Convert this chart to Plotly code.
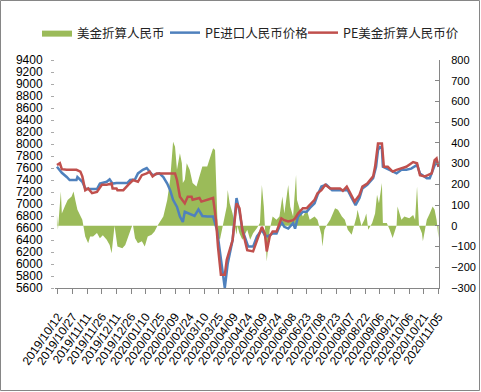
import plotly.graph_objects as go

# ---------------- data ----------------
blue_dates = ["2019-10-11","2019-10-16","2019-10-21","2019-10-24","2019-10-31","2019-11-01","2019-11-06","2019-11-09","2019-11-11","2019-11-21",
              "2019-11-24","2019-12-01","2019-12-04","2019-12-07","2019-12-11","2019-12-22","2019-12-25","2019-12-30","2020-01-02","2020-01-07",
              "2020-01-11","2020-01-14","2020-01-17","2020-01-24","2020-01-28","2020-02-01","2020-02-04","2020-02-07","2020-02-11","2020-02-14",
              "2020-02-17","2020-02-19","2020-02-24","2020-02-29","2020-03-04","2020-03-08","2020-03-13","2020-03-19","2020-03-23","2020-03-26",
              "2020-03-29","2020-03-31","2020-04-03","2020-04-08","2020-04-12","2020-04-15","2020-04-18","2020-04-24","2020-04-29","2020-05-03",
              "2020-05-08","2020-05-11","2020-05-14","2020-05-19","2020-05-23","2020-05-28","2020-05-31","2020-06-04","2020-06-09","2020-06-11",
              "2020-06-14","2020-06-19","2020-06-23","2020-06-26","2020-07-01","2020-07-04","2020-07-08","2020-07-13","2020-07-19","2020-07-27",
              "2020-08-04","2020-08-08","2020-08-12","2020-08-16","2020-08-19","2020-08-24","2020-08-30","2020-09-02","2020-09-04","2020-09-06",
              "2020-09-08","2020-09-09","2020-09-13","2020-09-18","2020-09-23","2020-09-28","2020-10-03","2020-10-08","2020-10-14","2020-10-17",
              "2020-10-20","2020-10-24","2020-10-27","2020-10-30","2020-11-03","2020-11-05"]
blue_values = [7620,7520,7450,7400,7400,7450,7370,7260,7250,7250,
               7340,7370,7410,7340,7350,7350,7400,7410,7510,7570,
               7600,7540,7480,7510,7450,7340,7230,7070,6950,6790,
               6700,6870,6840,6800,6910,6800,6790,6790,6570,6230,
               5900,5600,6010,6400,7100,6880,6570,6290,6290,6460,
               6570,6480,6460,6510,6510,6700,6620,6590,6680,6590,
               6790,6870,6870,6930,7010,7150,7290,7320,7230,7230,
               7230,7100,6980,7100,7260,7320,7430,7620,7900,7950,
               7930,7620,7590,7540,7510,7570,7570,7590,7650,7510,
               7480,7430,7430,7570,7730,7620]

red_dates = ["2019-10-11","2019-10-14","2019-10-16","2019-10-21","2019-10-31","2019-11-04","2019-11-06","2019-11-07","2019-11-09","2019-11-12",
             "2019-11-16","2019-11-21","2019-11-26","2019-12-01","2019-12-06","2019-12-07","2019-12-11","2019-12-12","2019-12-18","2019-12-23",
             "2019-12-28","2020-01-02","2020-01-06","2020-01-11","2020-01-14","2020-01-17","2020-01-21","2020-02-09","2020-02-11","2020-02-14",
             "2020-02-19","2020-02-22","2020-02-26","2020-02-27","2020-03-05","2020-03-07","2020-03-13","2020-03-19","2020-03-22","2020-03-24",
             "2020-03-27","2020-03-31","2020-04-02","2020-04-05","2020-04-08","2020-04-12","2020-04-15","2020-04-18","2020-04-23","2020-04-29",
             "2020-05-04","2020-05-08","2020-05-11","2020-05-13","2020-05-16","2020-05-19","2020-05-23","2020-05-28","2020-05-31","2020-06-04",
             "2020-06-09","2020-06-11","2020-06-14","2020-06-19","2020-06-23","2020-06-26","2020-07-01","2020-07-04","2020-07-08","2020-07-12",
             "2020-07-17","2020-07-22","2020-07-27","2020-07-30","2020-08-03","2020-08-06","2020-08-11","2020-08-16","2020-08-19","2020-08-24",
             "2020-08-30","2020-09-01","2020-09-04","2020-09-08","2020-09-10","2020-09-14","2020-09-19","2020-09-23","2020-09-28","2020-10-03",
             "2020-10-10","2020-10-14","2020-10-17","2020-10-22","2020-10-25","2020-10-29","2020-11-01","2020-11-03","2020-11-05"]
red_values = [7650,7680,7580,7570,7570,7540,7460,7370,7230,7260,
              7180,7200,7320,7320,7340,7260,7260,7230,7230,7320,
              7400,7370,7480,7510,7540,7460,7510,7510,7400,7120,
              7010,7120,7120,7070,7100,7040,7070,7100,6730,6290,
              5820,5820,6070,6230,6400,7010,6930,6570,6230,6210,
              6460,6620,6510,6210,6460,6540,6540,6760,6730,6710,
              6730,6760,6840,6930,6930,6980,7070,7180,7230,7320,
              7260,7260,7260,7220,7290,7200,7040,7150,7290,7340,
              7460,7620,8010,8010,7620,7620,7540,7570,7590,7620,
              7700,7680,7480,7460,7480,7510,7730,7760,7620]

green_dates = ["2019-10-11","2019-10-12","2019-10-15","2019-10-16","2019-10-19","2019-10-22","2019-10-26","2019-10-28","2019-10-30","2019-11-01",
               "2019-11-06","2019-11-07","2019-11-09","2019-11-12","2019-11-14","2019-11-17","2019-11-21","2019-11-24","2019-11-27","2019-12-01",
               "2019-12-04","2019-12-06","2019-12-07","2019-12-09","2019-12-12","2019-12-17","2019-12-20","2019-12-23","2019-12-27","2019-12-28",
               "2019-12-30","2020-01-02","2020-01-06","2020-01-09","2020-01-12","2020-01-16","2020-01-19","2020-01-22","2020-01-28","2020-02-01",
               "2020-02-04","2020-02-07","2020-02-09","2020-02-11","2020-02-14","2020-02-16","2020-02-17","2020-02-19","2020-02-21","2020-02-24",
               "2020-02-27","2020-03-02","2020-03-05","2020-03-08","2020-03-13","2020-03-16","2020-03-19","2020-03-21","2020-03-23","2020-03-24",
               "2020-03-26","2020-03-28","2020-03-29","2020-04-02","2020-04-03","2020-04-05","2020-04-08","2020-04-12","2020-04-13","2020-04-15",
               "2020-04-18","2020-04-23","2020-04-26","2020-04-29","2020-05-03","2020-05-06","2020-05-08","2020-05-10","2020-05-13","2020-05-16",
               "2020-05-19","2020-05-23","2020-05-26","2020-05-29","2020-05-31","2020-06-04","2020-06-06","2020-06-09","2020-06-12","2020-06-13",
               "2020-06-16","2020-06-19","2020-06-23","2020-06-26","2020-07-01","2020-07-04","2020-07-08","2020-07-09","2020-07-11","2020-07-13",
               "2020-07-17","2020-07-22","2020-07-25","2020-07-29","2020-08-01","2020-08-04","2020-08-08","2020-08-13","2020-08-14","2020-08-18",
               "2020-08-21","2020-08-23","2020-08-25","2020-08-29","2020-09-01","2020-09-03","2020-09-05","2020-09-08","2020-09-09","2020-09-13",
               "2020-09-16","2020-09-19","2020-09-23","2020-09-24","2020-09-28","2020-10-01","2020-10-06","2020-10-10","2020-10-12","2020-10-14",
               "2020-10-16","2020-10-19","2020-10-20","2020-10-22","2020-10-24","2020-10-27","2020-10-30","2020-11-01","2020-11-03","2020-11-05"]
green_values = [53,-19,165,60,93,125,141,165,120,77,
                29,-6,-51,-84,-51,-51,-35,-60,-45,-67,
                -92,-132,-74,0,-100,-108,-92,-51,0,0,
                -60,-84,-74,-100,-51,-43,-27,0,45,125,
                222,406,382,270,350,302,206,222,302,270,
                206,190,238,286,286,334,374,366,60,-51,
                -67,-19,0,93,173,109,60,-43,0,-36,
                -67,-19,-67,-36,-10,13,197,93,-172,-19,
                45,29,45,141,60,197,93,45,245,125,
                77,45,77,29,45,29,-43,-100,-20,0,
                29,85,77,45,29,-19,-43,45,77,0,
                29,60,-19,13,60,150,109,206,13,13,
                -19,-59,0,93,29,45,36,52,29,190,
                0,-36,-75,-19,29,60,93,77,29,-59]

tick_dates = ["2019-10-12","2019-10-27","2019-11-11","2019-11-26","2019-12-11","2019-12-26","2020-01-10","2020-01-25","2020-02-09",
              "2020-02-24","2020-03-10","2020-03-25","2020-04-09","2020-04-24","2020-05-09","2020-05-24","2020-06-08","2020-06-23",
              "2020-07-08","2020-07-23","2020-08-07","2020-08-22","2020-09-06","2020-09-21","2020-10-06","2020-10-21","2020-11-05"]
tick_labels = [d.replace("-", "/") for d in tick_dates]

series_names = ["美金折算人民币", "PE进口人民币价格", "PE美金折算人民币价"]

# ---------------- figure ----------------
W, H = 481, 392
ML, MR, MT, MB = 55, 42, 60, 104
pw = W - ML - MR
ph = H - MT - MB

fig = go.Figure()
fig.add_trace(go.Scatter(x=green_dates, y=green_values, name=series_names[0], mode="lines",
                         fill="tozeroy", fillcolor="#9BBB59", line=dict(width=0, color="#9BBB59"),
                         yaxis="y", legend="legend"))
fig.add_trace(go.Scatter(x=blue_dates, y=blue_values, name=series_names[1], mode="lines",
                         line=dict(width=2.5, color="#4F81BD"), yaxis="y2", legend="legend2"))
fig.add_trace(go.Scatter(x=red_dates, y=red_values, name=series_names[2], mode="lines",
                         line=dict(width=2.5, color="#C0504D"), yaxis="y2", legend="legend3"))

fig.add_shape(type="rect", xref="paper", yref="paper",
              x0=-(ML - 0.5) / pw, x1=(W - ML - 1.5) / pw,
              y0=-(MB - 1.5) / ph, y1=(ph + MT - 0.5) / ph,
              line=dict(color="#868686", width=1), fillcolor="rgba(0,0,0,0)", layer="below")

legend_font = dict(family="Noto Sans CJK SC", size=12.5, color="#222")
def legend_at(px):
    return dict(orientation="h", xref="container", yref="container",
                x=px / W, y=1 - 33 / H, xanchor="left", yanchor="middle",
                font=legend_font, bgcolor="rgba(0,0,0,0)", itemwidth=30)

fig.update_layout(
    width=W, height=H,
    margin=dict(l=ML, r=MR, t=MT, b=MB, pad=0, autoexpand=False),
    paper_bgcolor="white", plot_bgcolor="white",
    font=dict(family="Liberation Sans, Arial", size=12, color="#000"),
    showlegend=True,
    legend=legend_at(37),
    legend2=legend_at(165),
    legend3=legend_at(303),
    xaxis=dict(type="date", range=["2019-10-09", "2020-11-05 12:00"], automargin=False,
               tickmode="array", tickvals=tick_dates, ticktext=tick_labels,
               tickangle=-55, tickfont=dict(size=12, color="#000"),
               ticklabelstandoff=11,
               showline=True, linecolor="#868686", linewidth=1,
               ticks="outside", ticklen=5, tickcolor="#868686",
               showgrid=False, zeroline=False),
    yaxis=dict(side="right", range=[-300, 800], dtick=100, tickmode="linear", tick0=0, automargin=False,
               showline=True, linecolor="#868686", linewidth=1,
               ticks="inside", ticklen=4, tickcolor="#868686",
               ticklabelstandoff=9,
               tickfont=dict(size=11, color="#000"),
               showgrid=False, zeroline=False),
    yaxis2=dict(overlaying="y", side="left", range=[5600, 9400], dtick=200, tickmode="linear", tick0=5600,
                automargin=False,
                showline=False, ticks="outside", ticklen=3, tickcolor="#aaaaaa",
                ticklabelstandoff=6,
                tickfont=dict(size=12, color="#000"),
                showgrid=False, zeroline=False),
)

fig.write_html("out.html", config={"displayModeBar": False},
               post_script="document.body.style.margin='0';document.body.style.overflow='hidden';")
